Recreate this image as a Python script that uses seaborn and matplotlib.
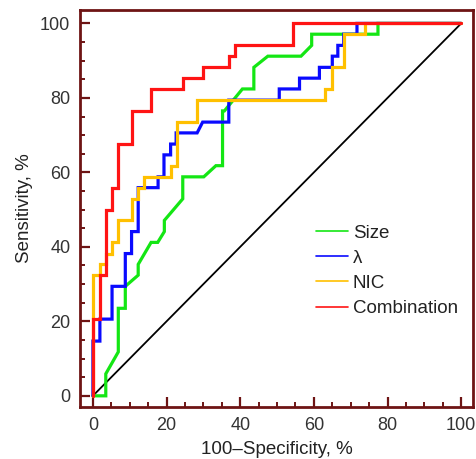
import matplotlib
matplotlib.use("Agg")
import matplotlib.pyplot as plt
from matplotlib.lines import Line2D
from matplotlib.ticker import MultipleLocator
import seaborn as sns
import pandas as pd

# ROC curve vertices (100-Specificity %, Sensitivity %)
size_fpr = [0, 3.5, 3.5, 6.9, 6.9, 8.8, 8.8, 12.3, 12.3, 15.8, 17.6, 19.4, 19.4, 24.4, 24.4,
            30.1, 33.4, 35.2, 35.2, 35.7, 40.6, 43.7, 43.7, 47.5, 56.5, 59.4, 59.4, 77.4, 77.4, 100]
size_tpr = [0, 0, 5.9, 11.8, 23.5, 23.5, 29.4, 32.4, 35.3, 41.2, 41.2, 44.1, 47.1, 52.9, 58.8,
            58.8, 61.8, 61.8, 76.5, 76.5, 82.4, 82.4, 88.2, 91.2, 91.2, 94.1, 97.1, 97.1, 100, 100]

lam_fpr = [0, 0, 1.9, 1.9, 5.2, 5.2, 8.8, 8.8, 10.5, 10.5, 12.3, 12.3, 17.7, 17.7, 19.3, 19.3,
           21.1, 21.1, 22.6, 22.6, 28.3, 29.8, 36.9, 36.9, 50.6, 50.6, 56.1, 56.1, 61.5, 61.5,
           65.0, 65.0, 66.5, 66.5, 68.1, 68.1, 71.7, 71.7, 100]
lam_tpr = [0, 14.7, 14.7, 20.6, 20.6, 29.4, 29.4, 38.2, 38.2, 44.1, 44.1, 55.9, 55.9, 58.8, 58.8, 64.7,
           64.7, 67.6, 67.6, 70.6, 70.6, 73.5, 73.5, 79.4, 79.4, 82.4, 82.4, 85.3, 85.3, 88.2,
           88.2, 91.2, 91.2, 94.1, 94.1, 97.1, 97.1, 100, 100]

nic_fpr = [0, 0, 1.9, 1.9, 3.5, 3.5, 5.2, 5.2, 6.9, 6.9, 10.5, 10.5, 12.3, 12.3, 13.9, 13.9,
           21.1, 21.1, 22.7, 22.7, 28.2, 28.2, 63.0, 63.0, 65.0, 65.0, 68.3, 68.3, 74.0, 74.0, 100]
nic_tpr = [0, 32.4, 32.4, 35.3, 35.3, 38.2, 38.2, 41.2, 41.2, 47.1, 47.1, 52.9, 52.9, 55.9, 55.9, 58.8,
           58.8, 61.8, 61.8, 73.5, 73.5, 79.4, 79.4, 82.4, 82.4, 88.2, 88.2, 97.1, 97.1, 100, 100]

comb_fpr = [0, 0, 1.9, 1.9, 3.5, 3.5, 5.2, 5.2, 6.9, 6.9, 10.5, 10.5, 15.8, 15.8, 24.4, 24.4,
            29.8, 29.8, 36.9, 36.9, 38.7, 38.7, 54.3, 54.3, 100]
comb_tpr = [0, 20.6, 20.6, 32.4, 32.4, 50.0, 50.0, 55.9, 55.9, 67.6, 67.6, 76.5, 76.5, 82.4, 82.4, 85.3,
            85.3, 88.2, 88.2, 91.2, 91.2, 94.1, 94.1, 100, 100]

ref_x = [0, 100]
ref_y = [0, 100]

labels = ["Size", "\u03bb", "NIC", "Combination"]
colors = ["#14e614", "#0a0aff", "#ffc000", "#ff1414"]
series = [(size_fpr, size_tpr), (lam_fpr, lam_tpr), (nic_fpr, nic_tpr), (comb_fpr, comb_tpr)]

sns.set_style("white")
plt.rcParams["font.family"] = ["Liberation Sans", "DejaVu Sans"]

spine_c = "#6e1414"
fig = plt.figure(figsize=(4.77, 4.59), dpi=100)
ax = fig.add_axes([80 / 477, 52 / 459, 393 / 477, 397 / 459])

sns.lineplot(x=ref_x, y=ref_y, ax=ax, color="black", lw=1.3, sort=False, estimator=None)
for (fx, fy), c in zip(series, colors):
    df = pd.DataFrame({"fpr": fx, "tpr": fy})
    sns.lineplot(data=df, x="fpr", y="tpr", ax=ax, color=c, lw=2.3, sort=False,
                 estimator=None, solid_joinstyle="miter")

ax.set_xlim(-3.5, 103.2)
ax.set_ylim(-3.0, 103.6)
ax.xaxis.set_major_locator(MultipleLocator(20))
ax.xaxis.set_minor_locator(MultipleLocator(5))
ax.yaxis.set_major_locator(MultipleLocator(20))
ax.yaxis.set_minor_locator(MultipleLocator(5))
ax.tick_params(which="both", direction="in", colors=spine_c, labelcolor="#333333",
               bottom=True, left=True, top=False, right=False)
ax.tick_params(which="major", length=7, width=1.6, labelsize=13)
ax.tick_params(which="minor", length=3.5, width=1.4)
ax.tick_params(axis="x", which="major", pad=7.5)
ax.tick_params(axis="y", which="major", pad=7)
for s in ax.spines.values():
    s.set_color(spine_c)
    s.set_linewidth(2.0)

ax.set_xlabel("100\u2013Specificity, %", fontsize=13.5, color="#222222", labelpad=5)
ax.set_ylabel("Sensitivity, %", fontsize=13.5, color="#222222", labelpad=5)

handles = [Line2D([0], [0], color=c, lw=1.2) for c in colors]
ax.legend(handles, labels, loc="upper left", bbox_to_anchor=(0.6005, 0.46), frameon=False,
          fontsize=13.5, handlelength=1.7, handletextpad=0.27, labelspacing=0.43,
          borderpad=0, borderaxespad=0, labelcolor="#222222")

fig.savefig("out.png", dpi=100)
